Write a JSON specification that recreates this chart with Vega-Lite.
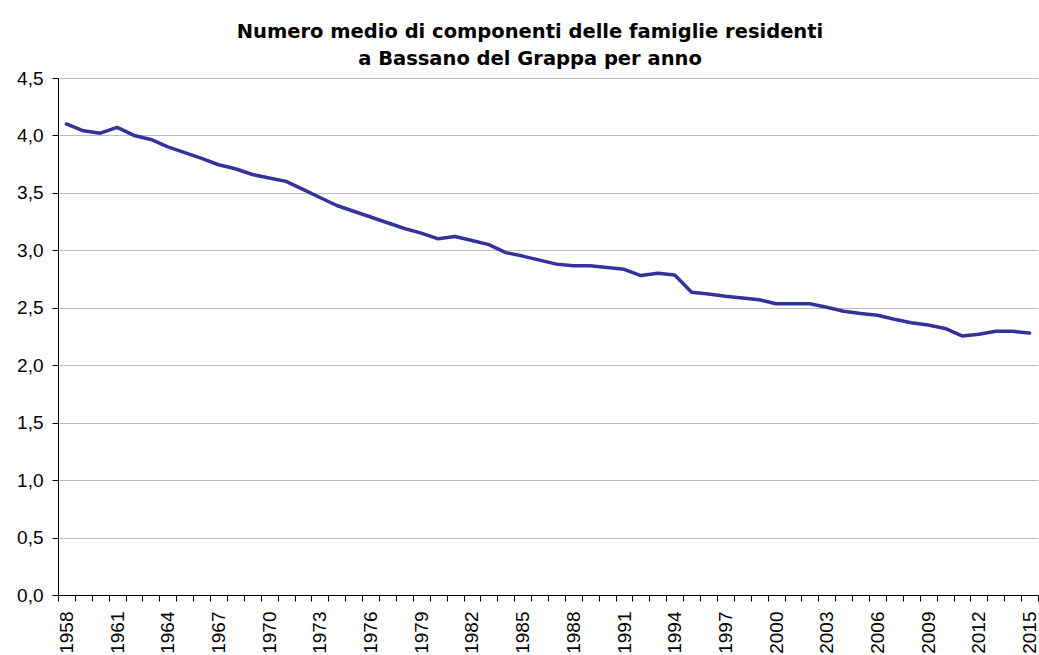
{
  "$schema": "https://vega.github.io/schema/vega-lite/v6.json",
  "width": 980,
  "height": 517,
  "autosize": {"type": "none"},
  "padding": {"left": 58, "top": 78, "right": 1, "bottom": 60},
  "background": "white",
  "title": {
    "text": ["Numero medio di componenti delle famiglie residenti", "a Bassano del Grappa per anno"],
    "font": "DejaVu Sans",
    "fontSize": 19.5,
    "fontWeight": "bold",
    "color": "black",
    "anchor": "middle",
    "lineHeight": 27,
    "dx": -18,
    "offset": 0
  },
  "config": {
    "view": {"stroke": null},
    "font": "Liberation Sans"
  },
  "data": {
    "values": [
      {"year": 1958, "value": 4.10},
      {"year": 1959, "value": 4.04},
      {"year": 1960, "value": 4.02},
      {"year": 1961, "value": 4.07},
      {"year": 1962, "value": 4.00},
      {"year": 1963, "value": 3.965},
      {"year": 1964, "value": 3.90},
      {"year": 1965, "value": 3.85},
      {"year": 1966, "value": 3.80},
      {"year": 1967, "value": 3.745},
      {"year": 1968, "value": 3.71},
      {"year": 1969, "value": 3.66},
      {"year": 1970, "value": 3.63},
      {"year": 1971, "value": 3.60},
      {"year": 1972, "value": 3.53},
      {"year": 1973, "value": 3.46},
      {"year": 1974, "value": 3.39},
      {"year": 1975, "value": 3.34},
      {"year": 1976, "value": 3.29},
      {"year": 1977, "value": 3.24},
      {"year": 1978, "value": 3.19},
      {"year": 1979, "value": 3.15},
      {"year": 1980, "value": 3.10},
      {"year": 1981, "value": 3.12},
      {"year": 1982, "value": 3.085},
      {"year": 1983, "value": 3.05},
      {"year": 1984, "value": 2.98},
      {"year": 1985, "value": 2.95},
      {"year": 1986, "value": 2.915},
      {"year": 1987, "value": 2.88},
      {"year": 1988, "value": 2.865},
      {"year": 1989, "value": 2.865},
      {"year": 1990, "value": 2.85},
      {"year": 1991, "value": 2.835},
      {"year": 1992, "value": 2.78},
      {"year": 1993, "value": 2.80},
      {"year": 1994, "value": 2.785},
      {"year": 1995, "value": 2.635},
      {"year": 1996, "value": 2.62},
      {"year": 1997, "value": 2.60},
      {"year": 1998, "value": 2.585},
      {"year": 1999, "value": 2.57},
      {"year": 2000, "value": 2.535},
      {"year": 2001, "value": 2.535},
      {"year": 2002, "value": 2.535},
      {"year": 2003, "value": 2.505},
      {"year": 2004, "value": 2.47},
      {"year": 2005, "value": 2.45},
      {"year": 2006, "value": 2.435},
      {"year": 2007, "value": 2.40},
      {"year": 2008, "value": 2.37},
      {"year": 2009, "value": 2.35},
      {"year": 2010, "value": 2.32},
      {"year": 2011, "value": 2.255},
      {"year": 2012, "value": 2.27},
      {"year": 2013, "value": 2.295},
      {"year": 2014, "value": 2.295},
      {"year": 2015, "value": 2.28}
    ]
  },
  "mark": {"type": "line", "color": "#333399", "strokeWidth": 3.5, "strokeJoin": "round", "strokeCap": "round"},
  "encoding": {
    "x": {
      "field": "year",
      "type": "ordinal",
      "bandPosition": 0.5,
      "scale": {"type": "band", "paddingInner": 0, "paddingOuter": 0},
      "axis": {
        "title": null,
        "tickBand": "extent",
        "labelAngle": -90,
        "labelExpr": "(toNumber(datum.value) - 1958) % 3 == 0 ? datum.label : ''",
        "labelFontSize": 19,
        "labelColor": "black",
        "labelFont": "Liberation Sans",
        "labelPadding": 10,
        "domainColor": "black",
        "domainWidth": 1,
        "tickColor": "black",
        "tickSize": 6,
        "grid": false
      }
    },
    "y": {
      "field": "value",
      "type": "quantitative",
      "scale": {"domain": [0, 4.5], "nice": false, "zero": true},
      "axis": {
        "title": null,
        "values": [0, 0.5, 1, 1.5, 2, 2.5, 3, 3.5, 4, 4.5],
        "format": ".1f",
        "labelExpr": "replace(datum.label, '.', ',')",
        "labelFontSize": 19,
        "labelColor": "black",
        "labelFont": "Liberation Sans",
        "labelPadding": 9,
        "domainColor": "black",
        "tickColor": "black",
        "tickSize": 6,
        "grid": true,
        "gridColor": "#bdbdbd",
        "gridWidth": 1
      }
    }
  }
}
